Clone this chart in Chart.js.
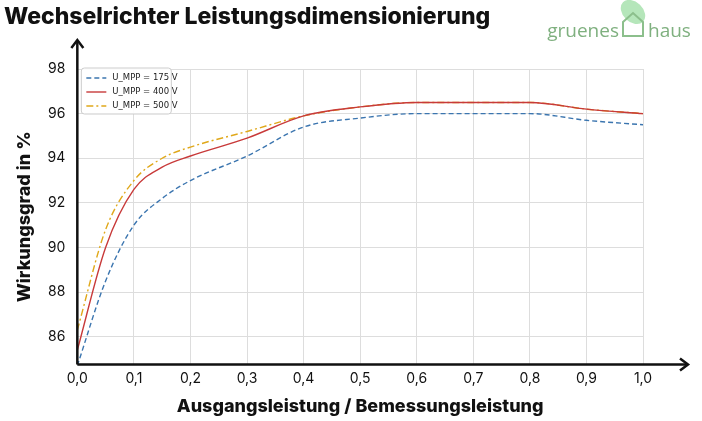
<!DOCTYPE html>
<html><head><meta charset="utf-8">
<script src="https://cdn.jsdelivr.net/npm/chart.js@4"></script>
<style>body{margin:0;background:#fff}</style>
</head><body><canvas id="c" width="702" height="421"></canvas>
<script>
const xs=[0,0.05,0.1,0.15,0.2,0.3,0.4,0.5,0.6,0.7,0.8,0.9,1.0];
const v175=[84.7,88.5,91.0,92.2,93.0,94.1,95.4,95.8,96.0,96.0,96.0,95.7,95.5];
const v400=[85.4,90.0,92.6,93.6,94.1,94.9,95.9,96.3,96.5,96.5,96.5,96.2,96.0];
const v500=[86.3,90.8,93.0,94.0,94.5,95.2,95.9,96.3,96.5,96.5,96.5,96.2,96.0];
const labels=['U_MPP = 175 V','U_MPP = 400 V','U_MPP = 500 V'];
const pts=a=>xs.map((x,i)=>({x,y:a[i]}));
const deco={id:'deco',afterDraw(ch){const c=ch.ctx,xa=ch.scales.x,ya=ch.scales.y;
 const x0=xa.left,y0=ya.bottom;c.save();
 c.fillStyle='rgba(255,255,255,0.9)';c.strokeStyle='#ccc';c.lineWidth=1;
 c.beginPath();c.roundRect(x0+4,ya.top-1,90,46,3);c.fill();c.stroke();
 c.font='8.5px "DejaVu Sans"';c.textBaseline='middle';
 ch.data.datasets.forEach((d,i)=>{const yy=ya.top+9+i*14;c.strokeStyle=d.borderColor;c.lineWidth=1.4;c.setLineDash(d.borderDash||[]);
  c.beginPath();c.moveTo(x0+9,yy);c.lineTo(x0+29,yy);c.stroke();c.setLineDash([]);c.fillStyle='#222';c.fillText(d.label,x0+35,yy);});
 c.strokeStyle='#111';c.fillStyle='#111';c.lineWidth=2.5;
 c.beginPath();c.moveTo(x0,y0);c.lineTo(x0,42);c.moveTo(x0,y0);c.lineTo(686,y0);c.stroke();
 c.beginPath();c.moveTo(x0-6,48);c.lineTo(x0,40);c.lineTo(x0+6,48);c.stroke();
 c.beginPath();c.moveTo(680,y0-6);c.lineTo(688,y0);c.lineTo(680,y0+6);c.stroke();
 c.font='800 23px Inter';c.fillStyle='#111';c.textBaseline='alphabetic';c.fillText('Wechselrichter Leistungsdimensionierung',4,24);
 c.fillStyle='rgba(120,210,130,0.55)';c.beginPath();c.ellipse(633,12,10,14,-0.8,0,Math.PI*2);c.fill();
 c.strokeStyle='#8cbf8c';c.lineWidth=2;c.beginPath();c.moveTo(623,36);c.lineTo(623,22);c.lineTo(633,13);c.lineTo(643,22);c.lineTo(643,36);c.closePath();c.stroke();
 c.fillStyle='#7fb07f';c.font='19px "Open Sans"';c.textAlign='right';c.fillText('gruenes',619,37);c.textAlign='left';c.fillText('haus',648,37);
 c.restore();}};
new Chart(document.getElementById('c'),{type:'line',data:{datasets:[
 {label:labels[0],data:pts(v175),borderColor:'#3b75af',borderDash:[5,3],borderWidth:1.4,pointRadius:0,cubicInterpolationMode:'monotone'},
 {label:labels[1],data:pts(v400),borderColor:'#c83a3a',borderWidth:1.4,pointRadius:0,cubicInterpolationMode:'monotone'},
 {label:labels[2],data:pts(v500),borderColor:'#e0a81a',borderDash:[7,3,2,3],borderWidth:1.4,pointRadius:0,cubicInterpolationMode:'monotone'}]},
options:{responsive:false,animation:false,devicePixelRatio:1,
 layout:{padding:{top:69,right:59,left:10,bottom:4}},
 plugins:{legend:{display:false},tooltip:{enabled:false}},
 scales:{x:{type:'linear',min:0,max:1,ticks:{stepSize:0.1,maxRotation:0,padding:6,font:{size:14,family:'Inter'},color:'#111',callback:v=>v.toFixed(1).replace('.',',')},
   grid:{color:'#ddd',borderDash:[2,3],drawTicks:false},border:{display:false},
   title:{display:true,text:'Ausgangsleistung / Bemessungsleistung',font:{size:18,weight:'800',family:'Inter'},color:'#111',padding:{top:2,bottom:0}}},
  y:{min:84.75,max:98,afterBuildTicks:a=>{a.ticks=[86,88,90,92,94,96,98].map(v=>({value:v}))},ticks:{font:{size:14,family:'Inter'},color:'#111',padding:12},
   grid:{color:'#ddd',borderDash:[2,3],drawTicks:false},border:{display:false},
   title:{display:true,text:'Wirkungsgrad in %',font:{size:18,weight:'800',family:'Inter'},color:'#111',padding:{bottom:0}}}}},
plugins:[deco]});
</script></body></html>
